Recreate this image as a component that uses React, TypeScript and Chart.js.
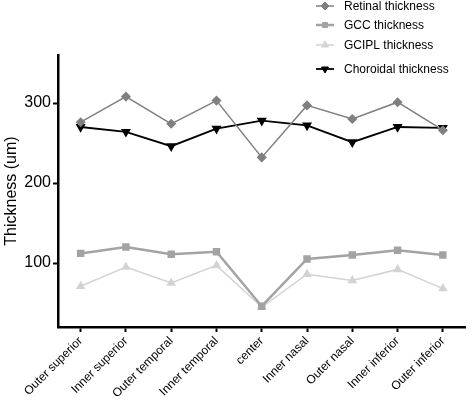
import React, { useEffect, useRef } from "react";
import { Chart, registerables } from "chart.js";
import { drawPoint } from "chart.js/helpers";

Chart.register(...registerables);

const categories = [
  "Outer superior",
  "Inner superior",
  "Outer temporal",
  "Inner temporal",
  "center",
  "Inner nasal",
  "Outer nasal",
  "Inner inferior",
  "Outer inferior",
];
const retinal = [276, 308, 274, 303, 232, 297, 280, 301, 266];
const gcc = [112, 120, 111, 114, 46, 105, 110, 116, 110];
const gcipl = [71, 95, 75, 97, 45, 86, 78, 92, 68];
const choroidal = [270, 264, 246, 268, 278, 272, 251, 270, 269];
const yTicks = [100, 200, 300];
const seriesNames = ["Retinal thickness", "GCC thickness", "GCIPL thickness", "Choroidal thickness"];

const FONT = "'Liberation Sans', Arial, sans-serif";

const legendPlugin = {
  id: "customLegend",
  afterDraw(chart: any) {
    const ctx = chart.ctx;
    const rows = [6, 25, 45, 69];
    ctx.save();
    chart.data.datasets.forEach((ds: any, i: number) => {
      const y = rows[i];
      ctx.strokeStyle = ds.borderColor;
      ctx.lineWidth = ds.borderWidth;
      ctx.beginPath();
      ctx.moveTo(316, y);
      ctx.lineTo(334, y);
      ctx.stroke();
      ctx.fillStyle = ds.borderColor;
      ctx.strokeStyle = ds.borderColor;
      ctx.lineWidth = 1;
      drawPoint(
        ctx,
        {
          pointStyle: ds.pointStyle,
          rotation: ds.pointRotation || 0,
          radius: ds.pointRadius,
          borderWidth: 1,
        } as any,
        325,
        y
      );
      ctx.fillStyle = "#000";
      ctx.font = `12px ${FONT}`;
      ctx.textAlign = "left";
      ctx.textBaseline = "middle";
      ctx.fillText(ds.label, 344, y + 0.5);
    });
    ctx.restore();
  },
};

export default function App() {
  const ref = useRef<HTMLCanvasElement | null>(null);
  useEffect(() => {
    document.body.style.margin = "0";
    const mk = (label: string, data: number[], color: string, style: string, width: number, rot = 0, r = 3.5) => ({
      label,
      data,
      borderColor: color,
      backgroundColor: color,
      pointBackgroundColor: color,
      pointBorderColor: color,
      pointStyle: style,
      pointRotation: rot,
      pointRadius: r,
      borderWidth: width,
      tension: 0,
      fill: false,
    });
    const chart = new Chart(ref.current!, {
      type: "line",
      data: {
        labels: categories,
        datasets: [
          mk(seriesNames[0], retinal, "#808080", "rectRot", 1.5, 0, 4),
          mk(seriesNames[1], gcc, "#a3a3a3", "rect", 2.5, 0, 3.5),
          mk(seriesNames[2], gcipl, "#d3d3d3", "triangle", 1.5, 0, 4),
          mk(seriesNames[3], choroidal, "#000000", "triangle", 1.8, 180, 4),
        ] as any,
      },
      options: {
        animation: false,
        responsive: false,
        layout: { padding: { top: 55, right: 3, left: 0, bottom: 0 } },
        plugins: { legend: { display: false }, tooltip: { enabled: false } },
        scales: {
          x: {
            offset: true,
            grid: {
              display: true,
              drawOnChartArea: false,
              drawTicks: true,
              tickLength: 5,
              tickWidth: 2,
              color: "#000",
              offset: false,
            },
            border: { display: true, color: "#000", width: 2.5 },
            ticks: {
              color: "#000",
              font: { family: FONT, size: 12 },
              maxRotation: 45,
              minRotation: 45,
              padding: 2,
              autoSkip: false,
            },
            afterFit: (s: any) => {
              s.height = 79;
            },
          },
          y: {
            min: 20,
            max: 360,
            afterBuildTicks: (s: any) => {
              s.ticks = yTicks.map((v) => ({ value: v }));
            },
            grid: {
              display: true,
              drawOnChartArea: false,
              drawTicks: true,
              tickLength: 5,
              tickWidth: 2,
              color: "#000",
            },
            border: { display: true, color: "#000", width: 2.5 },
            ticks: {
              color: "#000",
              font: { family: FONT, size: 16 },
              padding: 2,
            },
            title: {
              display: true,
              text: "Thickness (um)",
              color: "#000",
              font: { family: FONT, size: 16 },
              padding: { top: 2, bottom: 0 },
            },
            afterFit: (s: any) => {
              s.width = 58;
            },
          },
        },
      },
      plugins: [legendPlugin],
    } as any);
    return () => chart.destroy();
  }, []);
  return (
    <div style={{ width: 472, height: 406 }}>
      <canvas ref={ref} width={472} height={406} style={{ display: "block" }} />
    </div>
  );
}
